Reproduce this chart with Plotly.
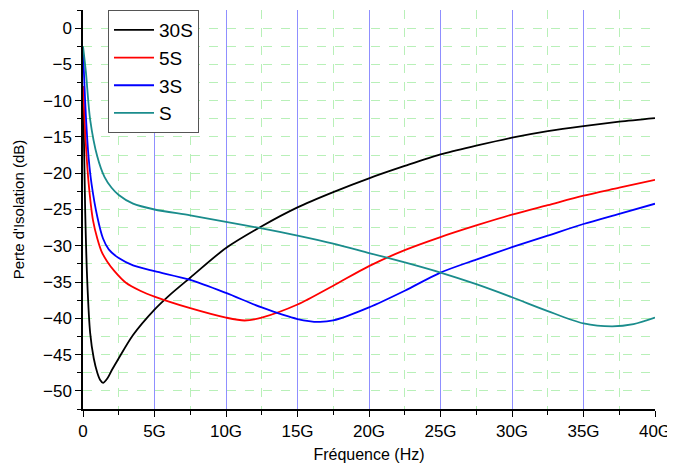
import plotly.graph_objects as go

# Frequencies in GHz
f_30S = [0, 0.15, 0.3, 0.5, 0.75, 1.0, 1.2, 1.4, 1.7, 2.0, 2.5, 3.5, 5, 6, 7.5, 10, 12.5, 15, 17.5, 20, 22.5, 25, 27.5, 30, 32.5, 35, 37.5, 40]
v_30S = [-8, -25, -35, -42, -45.5, -47.5, -48.5, -48.9, -48.3, -47.2, -45.5, -42.3, -38.8, -36.9, -34.4, -30.3, -27.3, -24.7, -22.6, -20.7, -19.0, -17.4, -16.2, -15.1, -14.2, -13.5, -12.9, -12.4]

f_5S = [0, 0.2, 0.4, 0.7, 1.0, 1.3, 1.7, 2.2, 3.0, 4.0, 5, 7.5, 10, 11.3, 12.5, 15, 17.5, 20, 22.5, 25, 27.5, 30, 32.5, 35, 37.5, 40]
v_5S = [-8, -16, -21.5, -26.5, -29, -30.8, -32.2, -33.5, -35.1, -36.2, -37.0, -38.6, -39.9, -40.3, -39.9, -38.1, -35.5, -32.8, -30.6, -28.8, -27.2, -25.7, -24.4, -23.1, -22.0, -20.9]

f_3S = [0, 0.2, 0.4, 0.6, 1.0, 1.4, 1.8, 2.5, 3.5, 5, 7.5, 10, 12.5, 15, 16.5, 17.5, 20, 22.5, 25, 27.5, 30, 32.5, 35, 37.5, 40]
v_3S = [-3, -12, -18, -21.5, -26, -29, -30.5, -31.7, -32.7, -33.5, -34.7, -36.5, -38.5, -40.1, -40.5, -40.3, -38.5, -36.2, -33.7, -31.9, -30.2, -28.6, -27.0, -25.6, -24.2]

f_S = [0, 0.2, 0.5, 1.0, 1.5, 2.0, 2.5, 3.5, 5, 7.5, 10, 12.5, 15, 17.5, 20, 22.5, 25, 27.5, 30, 32.5, 35, 37, 38.5, 40]
v_S = [-2.5, -6, -12.6, -17.7, -20.5, -22.0, -23.0, -24.2, -25.0, -25.8, -26.7, -27.6, -28.6, -29.7, -31.0, -32.3, -33.7, -35.3, -37.1, -39.0, -40.7, -41.1, -40.8, -39.9]

series_names = ["30S", "5S", "3S", "S"]
series_colors = ["#000000", "#ff0000", "#0000ff", "#1a8c8c"]

x_tickvals = [0, 5, 10, 15, 20, 25, 30, 35, 40]
x_ticktext = ["0", "5G", "10G", "15G", "20G", "25G", "30G", "35G", "40G"]
x_gridvals = [5, 10, 15, 20, 25, 30, 35]
y_tickvals = [0, -5, -10, -15, -20, -25, -30, -35, -40, -45, -50]

fig = go.Figure()
for i, (fx, vy) in enumerate([(f_30S, v_30S), (f_5S, v_5S), (f_3S, v_3S), (f_S, v_S)]):
    fig.add_trace(go.Scatter(
        x=fx, y=vy, mode="lines", name=series_names[i],
        legendgroup=series_names[i],
        line=dict(color=series_colors[i], width=1.8, shape="spline", smoothing=0.8),
    ))

green = "#b8f0b8"
fig.update_layout(
    width=667, height=455,
    margin=dict(l=75, r=20, t=2, b=54),
    paper_bgcolor="white", plot_bgcolor="white",
    font=dict(family="Liberation Sans, Arial, sans-serif", color="black"),
    showlegend=True,
    legend=dict(
        x=0.0437, y=1.0, xanchor="left", yanchor="top",
        bordercolor="#555555", borderwidth=1, bgcolor="white",
        font=dict(size=19), tracegroupgap=0, itemwidth=40,
    ),
    xaxis=dict(
        range=[0, 40], tickvals=x_tickvals, ticktext=x_ticktext,
        automargin=False,
        showline=True, linecolor="black", linewidth=1.5,
        ticks="outside", ticklen=6, tickwidth=1.2, tickcolor="black",
        tickfont=dict(size=17),
        showgrid=False, zeroline=False,
        minor=dict(dtick=2.5, ticks="outside", ticklen=4, tickcolor="black",
                   showgrid=True, gridcolor=green, griddash="dash", gridwidth=1),
        title=dict(text="Fréquence (Hz)", font=dict(size=16)),
    ),
    xaxis2=dict(
        overlaying="x", matches="x", range=[0, 40], tickvals=x_gridvals,
        showticklabels=False, ticks="", showline=False, zeroline=False,
        showgrid=True, gridcolor="#8f8fff", gridwidth=1, automargin=False,
    ),
    yaxis=dict(
        range=[-52.5, 2.5], tickvals=y_tickvals,
        automargin=False,
        showline=True, linecolor="black", linewidth=1.5,
        ticks="outside", ticklen=6, tickwidth=1.2, tickcolor="black",
        tickfont=dict(size=17),
        showgrid=False, zeroline=False,
        minor=dict(dtick=2.5, ticks="outside", ticklen=4, tickcolor="black",
                   showgrid=True, gridcolor=green, griddash="dash", gridwidth=1),
        title=dict(text="Perte d'Isolation (dB)", font=dict(size=15)),
    ),
)
# invisible helper trace so xaxis2 is drawn (carries blue vertical gridlines)
fig.add_trace(go.Scatter(x=[x_gridvals[0]], y=[y_tickvals[0]], xaxis="x2", mode="markers",
                         marker=dict(opacity=0), showlegend=False, hoverinfo="skip"))

fig.write_html("out.html")
